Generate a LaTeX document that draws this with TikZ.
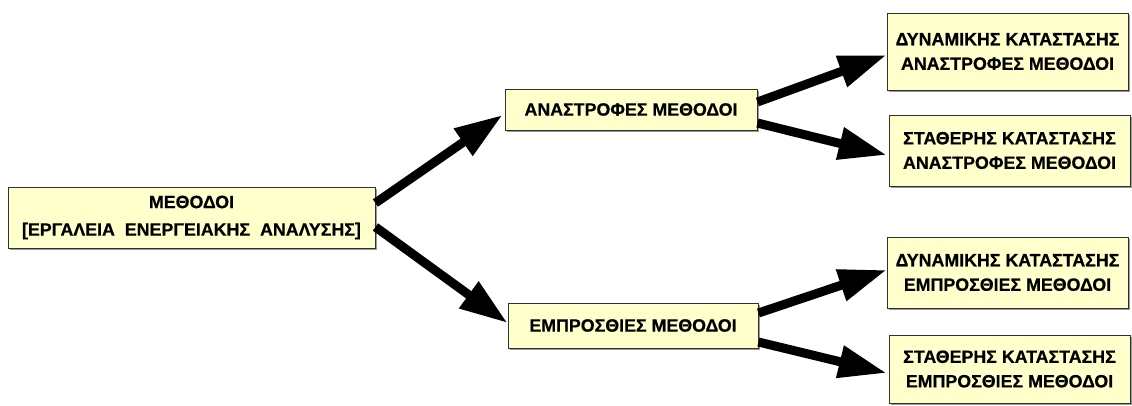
\documentclass[tikz,border=0pt]{standalone}
\usepackage{fontspec}
\setmainfont{Liberation Sans}[BoldFeatures={FakeBold=0.6}]
\usetikzlibrary{arrows.meta,shadows}
\definecolor{boxfill}{HTML}{FFFFCC}
\definecolor{boxedge}{HTML}{303030}
\tikzset{
  box/.style={draw=boxedge, line width=0.9pt, fill=boxfill, inner sep=0pt,
    align=center, font=\fontsize{17.8}{24.5}\selectfont\bfseries,
    drop shadow={shadow xshift=1.6pt, shadow yshift=-1.6pt, fill=gray!80, opacity=1}},
  arr/.style={line width=9pt, -{Triangle[length=48pt,width=31pt]}}
}
\newcommand{\widegap}{\hspace{10pt}}
\begin{document}
\begin{tikzpicture}[x=1pt,y=1pt]
\useasboundingbox (0,0) rectangle (1132,-406);
% root and the two method families
\node[box, minimum width=367pt, minimum height=61pt] (m) at (191.5,-217.5)
  {ΜΕΘΟΔΟΙ\\[3pt]{[}ΕΡΓΑΛΕΙΑ\widegap ΕΝΕΡΓΕΙΑΚΗΣ\widegap ΑΝΑΛΥΣΗΣ]};
\node[box, minimum width=252pt, minimum height=41pt] (a) at (631,-109.5)
  {ΑΝΑΣΤΡΟΦΕΣ ΜΕΘΟΔΟΙ};
\node[box, minimum width=250pt, minimum height=45pt] (e) at (633,-325.5)
  {ΕΜΠΡΟΣΘΙΕΣ ΜΕΘΟΔΟΙ};
% leaves
\node[box, minimum width=241pt, minimum height=77pt] (r1) at (1007.5,-51.5)
  {ΔΥΝΑΜΙΚΗΣ ΚΑΤΑΣΤΑΣΗΣ\\ΑΝΑΣΤΡΟΦΕΣ ΜΕΘΟΔΟΙ};
\node[box, minimum width=241pt, minimum height=71pt] (r2) at (1009.5,-150.5)
  {ΣΤΑΘΕΡΗΣ ΚΑΤΑΣΤΑΣΗΣ\\ΑΝΑΣΤΡΟΦΕΣ ΜΕΘΟΔΟΙ};
\node[box, minimum width=241pt, minimum height=71pt] (r3) at (1007.5,-272.5)
  {ΔΥΝΑΜΙΚΗΣ ΚΑΤΑΣΤΑΣΗΣ\\ΕΜΠΡΟΣΘΙΕΣ ΜΕΘΟΔΟΙ};
\node[box, minimum width=241pt, minimum height=68pt] (r4) at (1009.5,-369)
  {ΣΤΑΘΕΡΗΣ ΚΑΤΑΣΤΑΣΗΣ\\ΕΜΠΡΟΣΘΙΕΣ ΜΕΘΟΔΟΙ};
% connectors
\draw[arr] ([yshift=14.5pt]m.east) -- ([xshift=-2pt,yshift=-5.5pt]a.west);
\draw[arr] ([yshift=-9.5pt]m.east) -- ([yshift=2.5pt]e.west);
\draw[arr] ([yshift=7.5pt]a.east) -- ([yshift=-3.5pt]r1.west);
\draw[arr] ([yshift=-13.5pt]a.east) -- ([xshift=-2pt,yshift=-4.5pt]r2.west);
\draw[arr] ([yshift=12.5pt]e.east) -- ([yshift=2.5pt]r3.west);
\draw[arr] ([yshift=-16.5pt]e.east) -- ([xshift=-2pt,yshift=-4pt]r4.west);
\end{tikzpicture}
\end{document}
